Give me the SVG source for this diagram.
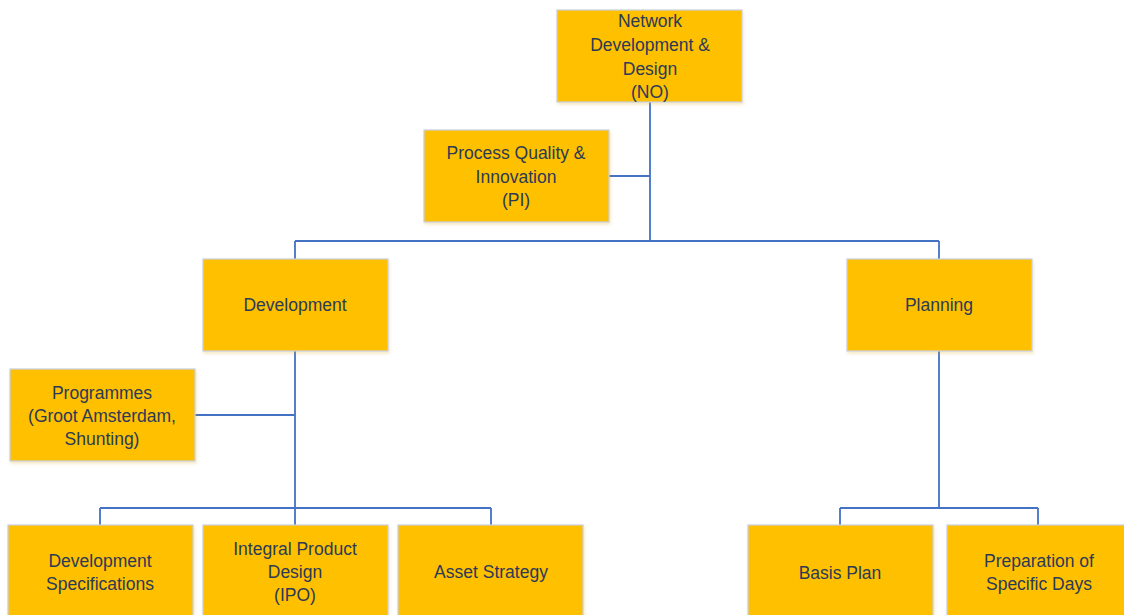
<svg xmlns="http://www.w3.org/2000/svg" width="1124" height="615" viewBox="0 0 1124 615">
<defs>
<filter id="sh" x="-10%" y="-10%" width="130%" height="130%">
<feDropShadow dx="1" dy="2" stdDeviation="1.5" flood-color="#d9a000" flood-opacity="0.25"/>
</filter>
<style>
.box{fill:#FFC000;stroke:#C8D0E0;stroke-width:1.2;filter:url(#sh)}
.t{font-family:"Liberation Sans",Arial,sans-serif;font-size:17.5px;fill:#2C3A58;text-anchor:middle}
.c{fill:none;stroke:#4472C4;stroke-width:1.8}
</style>
</defs>
<rect width="1124" height="615" fill="#fff"/>
<g id="connectors">
<path class="c" d="M650,102 V241 M609,176 H650 M295,241 H939 M295,241 V259 M939,241 V259 M295,351 V508 M195,415 H295 M100,508 H491 M100,508 V525 M295,508 V525 M491,508 V525 M939,351 V508 M840,508 H1038 M840,508 V525 M1038,508 V525"/>
</g>
<g id="n-no"><rect class="box" x="557" y="10" width="185" height="92"/>
<text class="t" x="650" y="27">Network</text><text class="t" x="650" y="51">Development &amp;</text><text class="t" x="650" y="75">Design</text><text class="t" x="650" y="98">(NO)</text></g>
<g id="n-pi"><rect class="box" x="424" y="130" width="185" height="92"/>
<text class="t" x="516" y="159">Process Quality &amp;</text><text class="t" x="516" y="183">Innovation</text><text class="t" x="516" y="206">(PI)</text></g>
<g id="n-dev"><rect class="box" x="203" y="259" width="185" height="92"/>
<text class="t" x="295" y="311">Development</text></g>
<g id="n-plan"><rect class="box" x="847" y="259" width="185" height="92"/>
<text class="t" x="939" y="311">Planning</text></g>
<g id="n-prog"><rect class="box" x="10" y="369" width="185" height="92"/>
<text class="t" x="102" y="399">Programmes</text><text class="t" x="102" y="422">(Groot Amsterdam,</text><text class="t" x="102" y="445">Shunting)</text></g>
<g id="n-devspec"><rect class="box" x="8" y="525" width="185" height="100"/>
<text class="t" x="100" y="567">Development</text><text class="t" x="100" y="590">Specifications</text></g>
<g id="n-ipo"><rect class="box" x="203" y="525" width="185" height="100"/>
<text class="t" x="295" y="555">Integral Product</text><text class="t" x="295" y="578">Design</text><text class="t" x="295" y="601">(IPO)</text></g>
<g id="n-asset"><rect class="box" x="398" y="525" width="185" height="100"/>
<text class="t" x="491" y="578">Asset Strategy</text></g>
<g id="n-basis"><rect class="box" x="748" y="525" width="185" height="100"/>
<text class="t" x="840" y="579">Basis Plan</text></g>
<g id="n-prep"><rect class="box" x="947" y="525" width="185" height="100"/>
<text class="t" x="1039" y="567">Preparation of</text><text class="t" x="1039" y="590">Specific Days</text></g>
</svg>
